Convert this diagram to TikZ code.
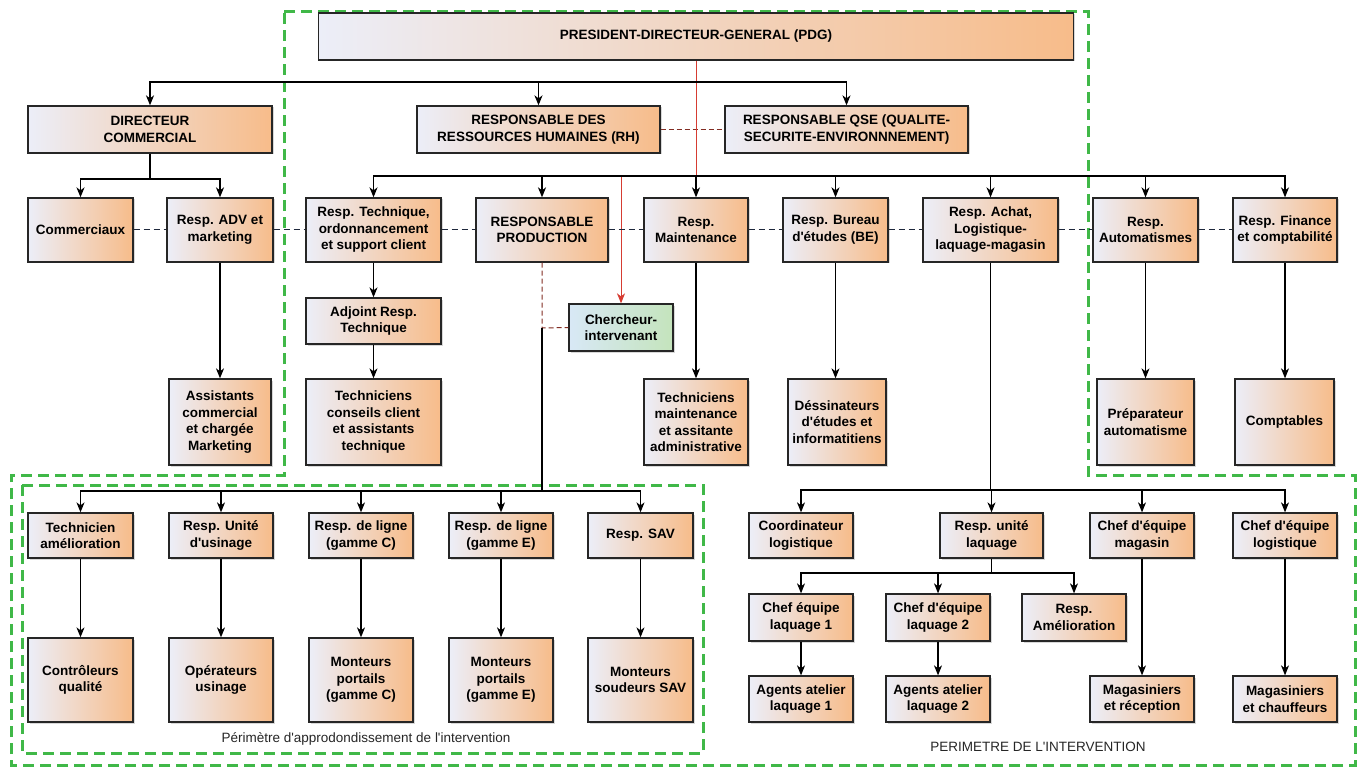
\documentclass[tikz,border=0pt]{standalone}
\usepackage{fontspec}
\setmainfont{Liberation Sans}
\usetikzlibrary{arrows.meta,shadows}
\newcommand\apq{\textquotesingle}
\definecolor{boxL}{RGB}{236,238,248}
\definecolor{boxR}{RGB}{247,188,138}
\definecolor{chL}{RGB}{216,232,246}
\definecolor{chR}{RGB}{196,228,188}
\definecolor{grn}{RGB}{64,184,72}
\definecolor{redl}{RGB}{214,60,50}
\definecolor{brownd}{RGB}{130,45,35}
\definecolor{linkc}{RGB}{30,40,60}
\begin{document}
\begin{tikzpicture}[x=1pt,y=-1pt,
  orgbox/.style={draw=black!85, line width=1.3pt, left color=boxL, right color=boxR,
    align=center, font=\fontsize{13.5}{16.5}\selectfont\bfseries, inner sep=1pt,
    drop shadow={shadow xshift=1.5pt, shadow yshift=-1.5pt, opacity=0.3}},
  chbox/.style={orgbox, left color=chL, right color=chR},
  arr/.style={line width=1.2pt, black, -{Stealth[length=10pt,width=8pt,inset=3pt]}},
  conn/.style={line width=1.2pt, black},
  redarr/.style={line width=1pt, redl, -{Stealth[length=10pt,width=8pt,inset=3pt]}},
  redln/.style={line width=1pt, redl},
  reddash/.style={line width=1pt, brownd, dash pattern=on 5pt off 3pt},
  linkdash/.style={line width=1pt, linkc, dash pattern=on 6pt off 4pt},
  zone/.style={line width=3pt, grn, dash pattern=on 11pt off 6pt},
  lbl/.style={font=\fontsize{13.5}{15}\selectfont, text=black!85}
]
\useasboundingbox (0,0) rectangle (1362,767);
\fill[white] (0,0) rectangle (1362,767);

% green zones
\draw[zone] (284,12) -- (1088,12) -- (1088,475) -- (1355,475) -- (1355,765) -- (11,765) -- (11,475) -- (284,475) -- cycle;
\draw[zone] (22,485) rectangle (703,753);

% top level
\node[orgbox, minimum width=755, minimum height=47] (pdg) at (696,36.5) {PRESIDENT-DIRECTEUR-GENERAL (PDG)};
\node[orgbox, minimum width=244, minimum height=47] (dc) at (150,129.5) {DIRECTEUR\\COMMERCIAL};
\node[orgbox, minimum width=243, minimum height=47] (rh) at (538.5,129.5) {RESPONSABLE DES\\RESSOURCES HUMAINES (RH)};
\node[orgbox, minimum width=243, minimum height=47] (qse) at (846.5,129.5) {RESPONSABLE QSE (QUALITE-\\SECURITE-ENVIRONNNEMENT)};

% second level
\node[orgbox, minimum width=105, minimum height=64] (com) at (80.5,230) {Commerciaux};
\node[orgbox, minimum width=106, minimum height=64] (adv) at (220,230) {Resp. ADV et\\marketing};
\node[orgbox, minimum width=135, minimum height=64] (tech) at (373.5,230) {Resp. Technique,\\ordonnancement\\et support client};
\node[orgbox, minimum width=132, minimum height=64] (prod) at (542,230) {RESPONSABLE\\PRODUCTION};
\node[orgbox, minimum width=104, minimum height=64] (maint) at (696,230) {Resp.\\Maintenance};
\node[orgbox, minimum width=105, minimum height=64] (be) at (835.5,230) {Resp. Bureau\\d\apq{}études (BE)};
\node[orgbox, minimum width=135, minimum height=64] (achat) at (990.5,230) {Resp. Achat,\\Logistique-\\laquage-magasin};
\node[orgbox, minimum width=105, minimum height=64] (auto) at (1145.5,230) {Resp.\\Automatismes};
\node[orgbox, minimum width=104, minimum height=64] (fin) at (1285,230) {Resp. Finance\\et comptabilité};

% third level
\node[orgbox, minimum width=135, minimum height=46] (adj) at (373.5,321) {Adjoint Resp.\\Technique};
\node[chbox, minimum width=104, minimum height=47] (cher) at (621,327.5) {Chercheur-\\intervenant};
\node[orgbox, minimum width=102, minimum height=86] (assist) at (220,422) {Assistants\\commercial\\et chargée\\Marketing};
\node[orgbox, minimum width=135, minimum height=86] (techc) at (373.5,422) {Techniciens\\conseils client\\et assistants\\technique};
\node[orgbox, minimum width=104, minimum height=86] (techm) at (696,422) {Techniciens\\maintenance\\et assitante\\administrative};
\node[orgbox, minimum width=98, minimum height=86] (dess) at (837,422) {Déssinateurs\\d\apq{}études et\\informatitiens};
\node[orgbox, minimum width=97, minimum height=86] (prep) at (1145.5,422) {Préparateur\\automatisme};
\node[orgbox, minimum width=99, minimum height=86] (compt) at (1284.5,422) {Comptables};

% production branch
\node[orgbox, minimum width=105, minimum height=45] (tam) at (80.5,535.5) {Technicien\\amélioration};
\node[orgbox, minimum width=104, minimum height=45] (rusi) at (221,535.5) {Resp. Unité\\d\apq{}usinage};
\node[orgbox, minimum width=104, minimum height=45] (rlc) at (361,535.5) {Resp. de ligne\\(gamme C)};
\node[orgbox, minimum width=104, minimum height=45] (rle) at (501,535.5) {Resp. de ligne\\(gamme E)};
\node[orgbox, minimum width=105, minimum height=45] (rsav) at (640.5,535.5) {Resp. SAV};
\node[orgbox, minimum width=105, minimum height=84] (ctrl) at (80.5,680) {Contrôleurs\\qualité};
\node[orgbox, minimum width=104, minimum height=84] (oper) at (221,680) {Opérateurs\\usinage};
\node[orgbox, minimum width=104, minimum height=84] (mc) at (361,680) {Monteurs\\portails\\(gamme C)};
\node[orgbox, minimum width=104, minimum height=84] (me) at (501,680) {Monteurs\\portails\\(gamme E)};
\node[orgbox, minimum width=105, minimum height=84] (msav) at (640.5,680) {Monteurs\\soudeurs SAV};

% achat branch
\node[orgbox, minimum width=104, minimum height=45] (coord) at (801,535.5) {Coordinateur\\logistique};
\node[orgbox, minimum width=103, minimum height=45] (laq) at (991.5,535.5) {Resp. unité\\laquage};
\node[orgbox, minimum width=104, minimum height=45] (cmag) at (1142,535.5) {Chef d\apq{}équipe\\magasin};
\node[orgbox, minimum width=104, minimum height=45] (clog) at (1285,535.5) {Chef d\apq{}équipe\\logistique};
\node[orgbox, minimum width=104, minimum height=47] (cl1) at (801,617.5) {Chef équipe\\laquage 1};
\node[orgbox, minimum width=104, minimum height=47] (cl2) at (938,617.5) {Chef d\apq{}équipe\\laquage 2};
\node[orgbox, minimum width=104, minimum height=47] (ram) at (1074,617.5) {Resp.\\Amélioration};
\node[orgbox, minimum width=104, minimum height=46] (ag1) at (801,699) {Agents atelier\\laquage 1};
\node[orgbox, minimum width=104, minimum height=46] (ag2) at (938,699) {Agents atelier\\laquage 2};
\node[orgbox, minimum width=104, minimum height=46] (mrec) at (1142,699) {Magasiniers\\et réception};
\node[orgbox, minimum width=104, minimum height=46] (mch) at (1285,699) {Magasiniers\\et chauffeurs};

% labels
\node[lbl] (lab1) at (366,739) {Périmètre d\apq{}approdondissement de l\apq{}intervention};
\node[lbl] (lab2) at (1038,747) {PERIMETRE DE L\apq{}INTERVENTION};

% junction coordinates
\coordinate (b1) at (696,82);
\coordinate (b2) at (696,176);
\coordinate (dcb) at (150,179);
\coordinate (pc) at (542,328);
\coordinate (pb) at (542,491);
\coordinate (ab) at (990.5,490);
\coordinate (lb) at (991.5,573);

% red links (under black)
\draw[redarr] (b2) -| (cher.north);
\draw[reddash] (rh.east) -- (qse.west);
\draw[redln] (pdg.south) -- (b2);

% top bus
\draw[arr] (b1) -| (dc.north);
\draw[arr] (b1) -| (rh.north);
\draw[arr] (b1) -| (qse.north);

% second bus
\draw[arr] (b2) -| (tech.north);
\draw[arr] (b2) -| (prod.north);
\draw[arr] (b2) -- (maint.north);
\draw[arr] (b2) -| (be.north);
\draw[arr] (b2) -| (achat.north);
\draw[arr] (b2) -| (auto.north);
\draw[arr] (b2) -| (fin.north);

% commercial
\draw[conn] (dc.south) -- (dcb);
\draw[arr] (dcb) -| (com.north);
\draw[arr] (dcb) -| (adv.north);
\draw[arr] (adv.south) -- (assist.north);

% technique
\draw[arr] (tech.south) -- (adj.north);
\draw[arr] (adj.south) -- (techc.north);

% maintenance, BE, automatismes, finance
\draw[arr] (maint.south) -- (techm.north);
\draw[arr] (be.south) -- (be.south |- dess.north);
\draw[arr] (auto.south) -- (prep.north);
\draw[arr] (fin.south) -- (fin.south |- compt.north);

% production
\draw[reddash] (prod.south) -- (pc) -- (cher.west);
\draw[conn] (pc) -- (pb);
\draw[arr] (pb) -| (tam.north);
\draw[arr] (pb) -| (rusi.north);
\draw[arr] (pb) -| (rlc.north);
\draw[arr] (pb) -| (rle.north);
\draw[arr] (pb) -| (rsav.north);
\draw[arr] (tam.south) -- (ctrl.north);
\draw[arr] (rusi.south) -- (oper.north);
\draw[arr] (rlc.south) -- (mc.north);
\draw[arr] (rle.south) -- (me.north);
\draw[arr] (rsav.south) -- (msav.north);

% achat
\draw[conn] (achat.south) -- (ab);
\draw[arr] (ab) -| (coord.north);
\draw[arr] (ab) -| (laq.north);
\draw[arr] (ab) -| (cmag.north);
\draw[arr] (ab) -| (clog.north);
\draw[conn] (laq.south) -- (lb);
\draw[arr] (lb) -| (cl1.north);
\draw[arr] (lb) -| (cl2.north);
\draw[arr] (lb) -| (ram.north);
\draw[arr] (cl1.south) -- (ag1.north);
\draw[arr] (cl2.south) -- (ag2.north);
\draw[arr] (cmag.south) -- (mrec.north);
\draw[arr] (clog.south) -- (mch.north);

% dashed links between level-2 boxes
\draw[linkdash] (com.east) -- (adv.west);
\draw[linkdash] (adv.east) -- (tech.west);
\draw[linkdash] (tech.east) -- (prod.west);
\draw[linkdash] (prod.east) -- (maint.west);
\draw[linkdash] (maint.east) -- (be.west);
\draw[linkdash] (be.east) -- (achat.west);
\draw[linkdash] (achat.east) -- (auto.west);
\draw[linkdash] (auto.east) -- (fin.west);
\end{tikzpicture}
\end{document}
